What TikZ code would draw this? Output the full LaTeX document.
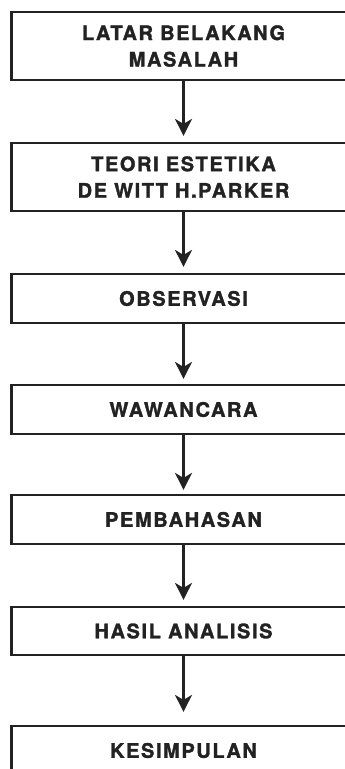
\documentclass[tikz,border=0pt]{standalone}
\usepackage{fontspec}
\newfontfamily\boxfont{TeX Gyre Heros}[LetterSpace=8, BoldFeatures={FakeBold=1.6}]
\usetikzlibrary{arrows.meta}
\definecolor{ink}{HTML}{222222}
\tikzset{
  stepbox/.style={draw=ink, line width=2.2pt, rectangle, minimum width=344pt,
    align=center, inner sep=0pt, font=\fontsize{20pt}{26.5pt}\boxfont\bfseries,
    text=ink},
  flow/.style={draw=ink, line width=2.4pt,
    -{Stealth[length=17pt, width=17pt, inset=5pt]}}
}
\begin{document}
\begin{tikzpicture}[x=1pt, y=1pt]
  \useasboundingbox (0,0) rectangle (345,-769);
  \begin{scope}
    \clip (0,0) rectangle (345,-769);
    \node[stepbox, minimum height=68pt] (b1) at (183.5,-46) {LATAR BELAKANG\\MASALAH};
    \node[stepbox, minimum height=68pt] (b2) at (183.5,-177) {TEORI ESTETIKA\\DE WITT H.PARKER};
    \node[stepbox, minimum height=49pt] (b3) at (183.5,-298.5) {OBSERVASI};
    \node[stepbox, minimum height=49pt] (b4) at (183.5,-409.5) {WAWANCARA};
    \node[stepbox, minimum height=49pt] (b5) at (183.5,-519.5) {PEMBAHASAN};
    \node[stepbox, minimum height=48pt] (b6) at (183.5,-631) {HASIL ANALISIS};
    \node[stepbox, minimum height=49pt] (b7) at (183.5,-750.5) {KESIMPULAN};
    \draw[flow, shorten >=6pt] (b1) -- (b2);
    \draw[flow, shorten >=6pt] (b2) -- (b3);
    \draw[flow, shorten >=5pt] (b3) -- (b4);
    \draw[flow, shorten >=4pt] (b4) -- (b5);
    \draw[flow, shorten >=6pt] (b5) -- (b6);
    \draw[flow, shorten >=13pt] (b6) -- (b7);
  \end{scope}
\end{tikzpicture}
\end{document}
